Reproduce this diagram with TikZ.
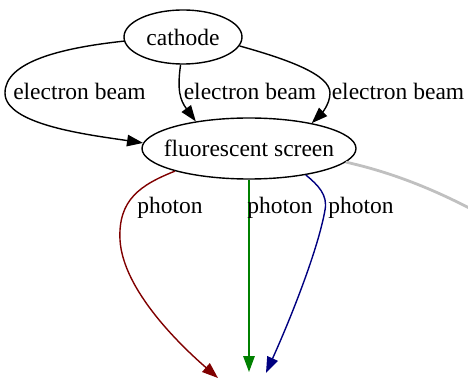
\documentclass[tikz,border=0pt]{standalone}
\usepackage{fontspec}
\setmainfont{Liberation Serif}
\newfontfamily\labelfont{Liberation Serif}
\usetikzlibrary{arrows.meta,shapes.geometric}
\definecolor{beamred}{RGB}{128,0,0}
\definecolor{beamgreen}{RGB}{0,128,0}
\definecolor{beamblue}{RGB}{0,0,128}
\definecolor{lightgraypen}{RGB}{192,192,192}
\tikzset{
  every node/.style={font=\labelfont\fontsize{23.5}{28}\selectfont},
  state/.style={draw, ellipse, line width=1.4pt, inner sep=0pt},
  edge/.style={line width=1.4pt, -{Triangle[length=16pt,width=11.5pt]}},
  lbl/.style={anchor=base, inner sep=0pt},
}
\begin{document}
\begin{tikzpicture}[x=1pt, y=-1pt]
\useasboundingbox (0,0) rectangle (468,382);
\clip (0,0) rectangle (468,382);

% nodes (text boxed to zero width so the ellipse size is set by the minimum size)
\node[state, minimum width=118pt, minimum height=54pt] (cathode) at (183,37) {\makebox[0pt]{cathode}};
\node[state, minimum width=214pt, minimum height=61pt] (screen) at (249,148.5) {\makebox[0pt]{fluorescent screen}};

% invisible photon targets and the far end of the grey edge
\coordinate (pr) at (218,378);
\coordinate (pg) at (249,372);
\coordinate (pb) at (266,373);
\coordinate (far) at (500,225);

% electron beams
\draw[edge] (cathode.184) .. controls (60,48) and (5,62) .. (5,93)
  .. controls (5,125) and (90,135) .. (screen.177);
\draw[edge] (cathode.265) .. controls (177,90) and (180,100) .. (screen.153);
\draw[edge] (cathode.351) .. controls (290,60) and (330,75) .. (330,93)
  .. controls (330,105) and (320,115) .. (screen.22);

\node[lbl] (l1) at (79.5,100) {electron beam};
\node[lbl] (l2) at (250,100) {electron beam};
\node[lbl] (l3) at (398,100) {electron beam};

% photons
\draw[edge, beamred] (screen.197) .. controls (140,185) and (118,200) .. (120,240)
  .. controls (123,290) and (180,345) .. (pr);
\draw[edge, beamgreen] (screen.south) -- (pg);
\draw[edge, beamblue] (screen.335) .. controls (318,185) and (328,195) .. (325,210)
  .. controls (318,250) and (290,320) .. (pb);

\node[lbl] (p1) at (170,213) {photon};
\node[lbl] (p2) at (280,213) {photon};
\node[lbl] (p3) at (361,213) {photon};

% grey edge leaving the picture
\draw[lightgraypen, line width=2.8pt] (screen.352) .. controls (390,172) and (440,190) .. (far);
\end{tikzpicture}
\end{document}
